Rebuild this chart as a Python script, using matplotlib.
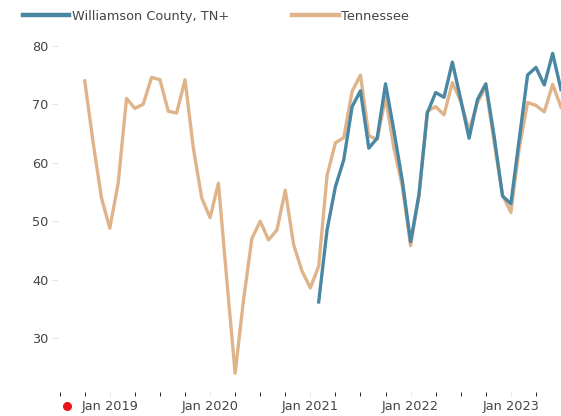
import numpy as np
import matplotlib
matplotlib.use("Agg")
import matplotlib.pyplot as plt

# months counted from Jan 2019 (0 = Jan 2019)
tn_start = -3   # Oct 2018
tennessee = [74, 63.5, 54,
             48.8, 56.5, 71, 69.3, 70, 74.6, 74.2, 68.8, 68.5, 74.2, 62.5, 54,
             50.6, 56.5, 40, 24, 36.5, 47, 50, 46.8, 48.5, 55.3, 46, 41.5,
             38.6, 42.3, 57.8, 63.4, 64.3, 72.2, 75, 64.6, 64, 71.2, 62.5, 56,
             45.8, 54.5, 68.8, 69.6, 68.2, 73.7, 70.5, 65.5, 70.3, 73, 63.5, 54.5,
             51.5, 62.5, 70.3, 69.8, 68.7, 73.4, 69.5]

wc_start = 25   # Feb 2021
williamson = [36.2, 48.5, 55.9, 60.5, 69.6, 72.3, 62.5, 64.2, 73.5, 65.5, 57,
              46.5, 54.5, 68.5, 72, 71.2, 77.2, 70.8, 64.2, 70.8, 73.5, 64.5, 54.3,
              53, 64, 75, 76.3, 73.3, 78.7, 72.5]

tick_pos = [0, 12, 24, 36, 48]
tick_labels = ["Jan 2019", "Jan 2020", "Jan 2021", "Jan 2022", "Jan 2023"]
y_ticks = [30, 40, 50, 60, 70, 80]

blue = "#4a87a2"
tan = "#dfb48b"

fig = plt.figure(figsize=(5.61, 4.16), dpi=100)
ax = fig.add_axes([58 / 561, 24 / 416, 503 / 561, 362 / 416])

x_tn = tn_start + np.arange(len(tennessee))
x_wc = wc_start + np.arange(len(williamson))
l_tn, = ax.plot(x_tn, tennessee, color=tan, lw=2.4, label="Tennessee")
l_wc, = ax.plot(x_wc, williamson, color=blue, lw=2.4, label="Williamson County, TN+")

ax.set_xlim(-6.2, 54)
ax.set_ylim(20.8, 82.7)

ax.set_xticks(tick_pos)
ax.set_xticklabels(tick_labels)
ax.set_xticks(np.arange(-6, 55, 3), minor=True)
ax.set_yticks(y_ticks)

for s in ax.spines.values():
    s.set_visible(False)
ax.tick_params(axis="both", colors="#e4e4e4", labelcolor="#444444", labelsize=9.3)
ax.tick_params(axis="x", which="both", length=3, pad=3)
ax.tick_params(axis="y", length=4, pad=3)

leg = fig.legend(handles=[l_wc, l_tn], loc="upper left", bbox_to_anchor=(0.02, 1.005),
                 ncol=2, frameon=False, fontsize=9.3, handlelength=3.6,
                 handletextpad=0.2, columnspacing=4.9, labelcolor="#444444")
for h in leg.get_lines():
    h.set_linewidth(3.2)

# red marker by the first date label
ax.plot([67 / 561], [10 / 416], "o", color="#e8141c", ms=5.5,
        transform=fig.transFigure, clip_on=False)

fig.savefig("out.png", dpi=100)
